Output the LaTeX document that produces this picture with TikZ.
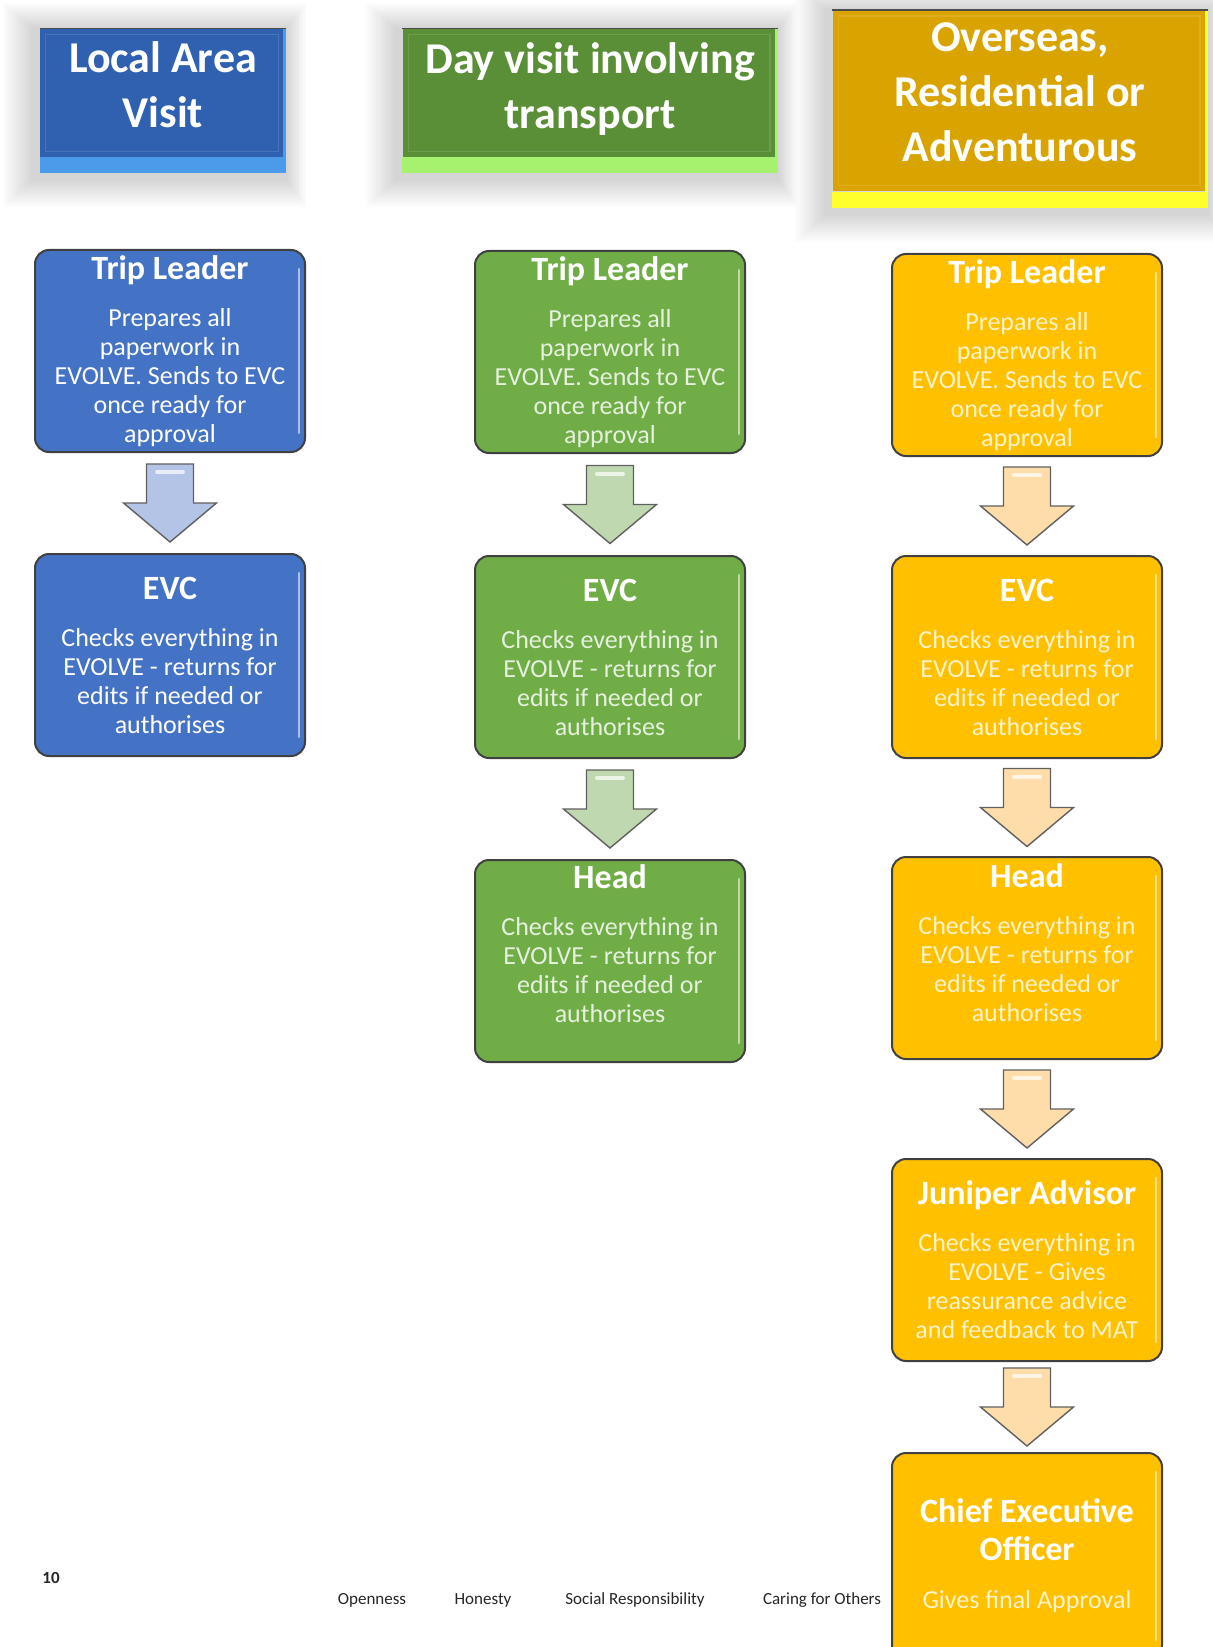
\documentclass[tikz,border=0pt]{standalone}
\usepackage{fontspec}
\setmainfont{Carlito}
\usetikzlibrary{positioning, calc}

\definecolor{tripblue}{HTML}{4472C4}
\definecolor{tripgreen}{HTML}{70AD47}
\definecolor{tripgold}{HTML}{FFC000}
\definecolor{hdrblue}{HTML}{3061B0}
\definecolor{hdrgreen}{HTML}{5B8F37}
\definecolor{hdrgold}{HTML}{D9A400}
\definecolor{lipblue}{HTML}{4C9BEB}
\definecolor{lipgreen}{HTML}{A6F26F}
\definecolor{lipgold}{HTML}{FFFF2E}
\definecolor{arrblue}{HTML}{B4C4E6}
\definecolor{arrgreen}{HTML}{C0D8B0}
\definecolor{arrgold}{HTML}{FFDDAA}
\definecolor{txtgreen}{HTML}{E6F0DE}
\definecolor{txtgold}{HTML}{FFF3C9}
\definecolor{edgegrey}{HTML}{404040}

\pgfdeclarelayer{background}
\pgfsetlayers{background,main}

\newcommand{\boxtitle}[1]{\textcolor{white}{\fontsize{17}{20}\selectfont\bfseries #1}}
\newcommand{\liftup}[2]{\raisebox{#1}[\height][\depth]{\begin{tabular}{@{}c@{}}#2\end{tabular}}}

\tikzset{
  pics/downarrow/.style={code={
    \draw[draw=gray!75!black, line width=0.7pt, fill=#1] (-23.5,-39) -- (23.5,-39) -- (23.5,0) -- (46.5,0) -- (0,39) -- (-46.5,0) -- (-23.5,0) -- cycle;
    \draw[white, opacity=0.7, line width=2pt, line cap=round] (-13,-31) -- (13,-31);
  }}
}

\begin{document}
\begin{tikzpicture}[
  x=0.5pt, y=-0.5pt,
  headbox/.style={minimum height=64pt, inner sep=0pt, align=center, text=white, font=\fontsize{22}{27.5}\selectfont\bfseries},
  stepbox/.style={draw=edgegrey, line width=1pt, rounded corners=7pt, minimum width=135pt, minimum height=101pt, inner sep=2pt, align=center, font=\fontsize{13}{14.5}\selectfont},
  bluestep/.style={stepbox, fill=tripblue, text=white},
  greenstep/.style={stepbox, fill=tripgreen, text=txtgreen},
  goldstep/.style={stepbox, fill=tripgold, text=txtgold},
  footnote/.style={font=\fontsize{8.5}{10}\selectfont, text=black!85}
]
  \useasboundingbox (0,0) rectangle (1213,1647);
  \clip (0,0) rectangle (1213,1647);

  % headers
  \node[headbox, fill=hdrblue, minimum width=123pt] (hdrA) at (163,93) {\liftup{2pt}{Local Area\\Visit}};
  \node[headbox, fill=hdrgreen, minimum width=187.5pt] (hdrB) at (590,93) {\liftup{1.5pt}{Day visit involving\\transport}};
  \node[headbox, fill=hdrgold, minimum width=187.5pt, minimum height=90.5pt] (hdrC) at (1020,101) {\liftup{2.5pt}{Overseas,\\Residential or\\Adventurous}};
  \fill[lipblue] (hdrA.south west) rectangle ([yshift=-8pt]hdrA.south east);
  \fill[lipgreen] (hdrB.south west) rectangle ([yshift=-8pt]hdrB.south east);
  \fill[lipgold] (hdrC.south west) rectangle ([yshift=-8pt]hdrC.south east);
  \draw[lipblue, line width=1.5pt] ([xshift=-0.75pt]hdrA.north east) -- ([xshift=-0.75pt]hdrA.south east);
  \draw[lipgreen, line width=1.5pt] ([xshift=-0.75pt]hdrB.north east) -- ([xshift=-0.75pt]hdrB.south east);
  \draw[lipgold, line width=1.5pt] ([xshift=-0.75pt]hdrC.north east) -- ([xshift=-0.75pt]hdrC.south east);
  \foreach \h in {hdrA,hdrB,hdrC} {
    \draw[black!70, line width=0.8pt] (\h.north west) -- (\h.north east);
    \draw[white, opacity=0.12, line width=0.6pt] ([shift={(3pt,-3pt)}]\h.north west) rectangle ([shift={(-4pt,3pt)}]\h.south east);
  }

  % soft shadow behind headers
  \begin{pgfonlayer}{background}
    \fill[white] (0,0) rectangle (1213,1647);
    \foreach \h in {hdrA,hdrB,hdrC}
      \foreach \k in {1,...,14}
        \fill[black, opacity=0.012] ([shift={({-3pt-\k*1.1pt},{\k*0.9pt})}]\h.north west) rectangle ([shift={({\k*0.7pt},{-11pt-\k*1.0pt})}]\h.south east);
  \end{pgfonlayer}

  % footer
  \node[footnote, font=\fontsize{8.5}{10}\selectfont\bfseries] (pagenum) at (51,1578) {10};
  \node[footnote] (valOpen) at (372,1600) {Openness};
  \node[footnote] (valHonest) at (483,1600) {Honesty};
  \node[footnote] (valSocial) at (635,1600) {Social Responsibility};
  \node[footnote] (valCaring) at (822,1600) {Caring for Others};

  % local area column
  \node[bluestep] (tlA) at (170,351) {\boxtitle{Trip Leader}\\[9pt]Prepares all\\paperwork in\\EVOLVE. Sends to EVC\\once ready for\\approval};
  \node[bluestep] (evcA) at (170,655) {\boxtitle{EVC}\\[9pt]Checks everything in\\EVOLVE - returns for\\edits if needed or\\authorises};

  % day visit column
  \node[greenstep] (tlB) at (610,352) {\boxtitle{Trip Leader}\\[9pt]Prepares all\\paperwork in\\EVOLVE. Sends to EVC\\once ready for\\approval};
  \node[greenstep] (evcB) at (610,657) {\boxtitle{EVC}\\[9pt]Checks everything in\\EVOLVE - returns for\\edits if needed or\\authorises};
  \node[greenstep] (headB) at (610,961) {\liftup{6.5pt}{\boxtitle{Head}\\[9pt]Checks everything in\\EVOLVE - returns for\\edits if needed or\\authorises}};

  % overseas column
  \node[goldstep] (tlC) at (1027,355) {\boxtitle{Trip Leader}\\[9pt]Prepares all\\paperwork in\\EVOLVE. Sends to EVC\\once ready for\\approval};
  \node[goldstep] (evcC) at (1027,657) {\boxtitle{EVC}\\[9pt]Checks everything in\\EVOLVE - returns for\\edits if needed or\\authorises};
  \node[goldstep] (headC) at (1027,958) {\liftup{5.5pt}{\boxtitle{Head}\\[9pt]Checks everything in\\EVOLVE - returns for\\edits if needed or\\authorises}};
  \node[goldstep] (junC) at (1027,1260) {\boxtitle{Juniper Advisor}\\[9pt]Checks everything in\\EVOLVE - Gives\\reassurance advice\\and feedback to MAT};
  \node[goldstep, minimum height=103pt] (ceoC) at (1027,1556) {\boxtitle{Chief Executive}\\[4.5pt]\boxtitle{Officer}\\[9.5pt]Gives final Approval};

  % glints
  \foreach \n in {tlA,evcA,tlB,evcB,headB,tlC,evcC,headC,junC,ceoC}
    \draw[white, opacity=0.55, line width=1.2pt, line cap=round] ([xshift=-3.5pt,yshift=-10pt]\n.north east) -- ([xshift=-3.5pt,yshift=10pt]\n.south east);

  % arrows
  \pic (arA1) at ($(tlA.south)!0.5!(evcA.north)$) {downarrow=arrblue};
  \pic (arB1) at ($(tlB.south)!0.5!(evcB.north)$) {downarrow=arrgreen};
  \pic (arB2) at ($(evcB.south)!0.5!(headB.north)$) {downarrow=arrgreen};
  \pic (arC1) at ($(tlC.south)!0.5!(evcC.north)$) {downarrow=arrgold};
  \pic (arC2) at ($(evcC.south)!0.5!(headC.north)$) {downarrow=arrgold};
  \pic (arC3) at ($(headC.south)!0.5!(junC.north)$) {downarrow=arrgold};
  \pic (arC4) at ($(junC.south)!0.5!(ceoC.north)$) {downarrow=arrgold};
\end{tikzpicture}
\end{document}
